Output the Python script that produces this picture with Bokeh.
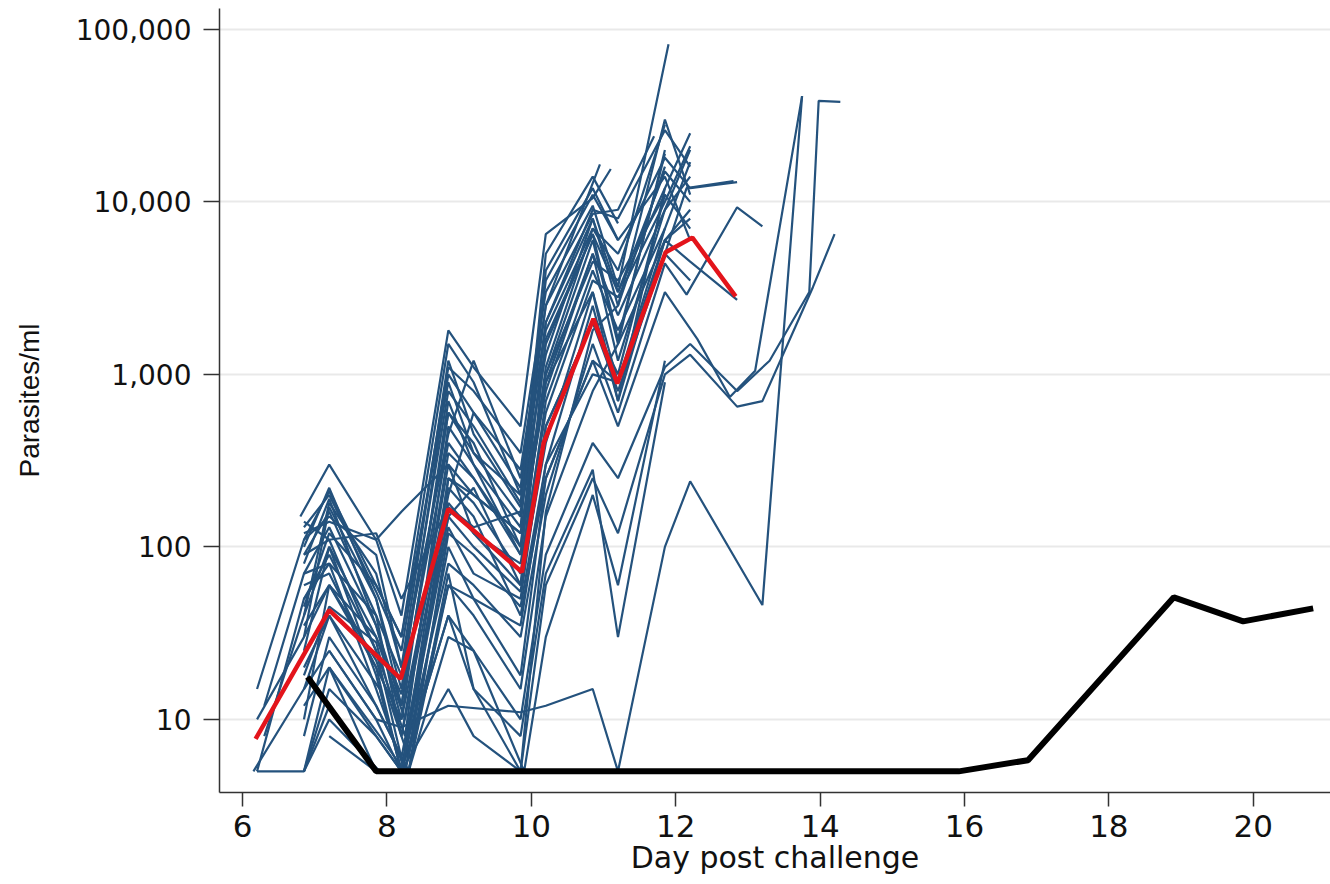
from bokeh.plotting import figure
from bokeh.models import Range1d, FixedTicker, NumeralTickFormatter
from bokeh.embed import file_html
from bokeh.resources import INLINE

# ---- data: individual parasitaemia curves (day post challenge, parasites/ml) ----
blue_days = [
    [6.85, 7.2, 7.85, 8.2, 8.85, 9.2, 9.85, 10.2, 10.85, 11.2, 11.9],
    [6.8, 7.2, 7.85, 8.2, 8.85, 9.2, 9.85, 10.2, 10.85, 11.1],
    [6.2, 6.85, 7.2, 7.85, 8.2, 8.85, 9.2, 9.85, 10.2, 10.95],
    [6.85, 7.2, 7.85, 8.2, 8.85, 9.2, 9.85, 10.2, 10.85, 11.2, 11.85, 12.2],
    [6.3, 6.85, 7.2, 7.85, 8.2, 8.85, 9.2, 9.85, 10.2, 10.85, 11.2, 11.85, 12.2],
    [6.85, 7.2, 7.85, 8.2, 8.85, 9.2, 9.85, 10.2, 10.85, 11.2, 11.85, 12.2, 12.85],
    [6.85, 7.2, 7.85, 8.25, 8.85, 9.2, 9.85, 10.2, 10.85, 11.2, 11.85, 12.2],
    [6.85, 7.2, 7.85, 8.3, 8.85, 9.2, 9.85, 10.2, 10.85, 11.2, 11.85, 12.2],
    [6.85, 7.2, 7.85, 8.2, 8.85, 9.2, 9.85, 10.2, 10.85, 11.2, 11.85],
    [6.85, 7.2, 7.9, 8.2, 8.85, 9.2, 9.85, 10.2, 10.85, 11.2, 11.85, 12.2],
    [6.2, 6.85, 7.2, 7.85, 8.25, 8.85, 9.2, 9.85, 10.2, 10.85, 11.2, 11.85],
    [6.85, 7.2, 7.85, 8.2, 8.85, 9.2, 9.85, 10.2, 10.85, 11.2, 11.85, 12.2],
    [6.85, 7.2, 7.85, 8.3, 8.85, 9.2, 9.85, 10.2, 10.85, 11.2, 11.85, 12.2, 12.85],
    [6.2, 6.85, 7.2, 7.85, 8.2, 8.85, 9.2, 9.85, 10.2, 10.85, 11.2, 11.85, 12.15, 12.85, 13.2],
    [7.2, 7.85, 8.2, 8.85, 9.2, 9.85, 10.2, 10.85, 11.2, 11.85, 12.15, 12.8],
    [6.85, 7.2, 7.85, 8.2, 8.85, 9.2, 9.85, 10.2, 10.85, 11.2, 11.85, 12.3, 12.75, 13.1, 13.75],
    [6.85, 7.2, 7.85, 8.2, 8.85, 9.2, 9.85, 10.2, 10.85, 11.2, 11.85, 12.2, 12.85, 13.2, 13.9, 14.2],
    [7.2, 7.85, 8.2, 8.85, 9.2, 9.85, 10.2, 10.85, 11.2, 11.85, 12.2, 12.85, 13.3, 13.85, 13.98, 14.28],
    [6.85, 7.2, 7.85, 8.2, 8.85, 9.85, 10.2, 10.85, 11.2, 11.85, 12.2, 13.2, 13.75],
    [6.85, 7.2, 7.85, 8.2, 8.85, 9.2, 9.85, 10.2, 10.85, 11.2, 11.85],
    [6.85, 7.2, 7.85, 8.2, 8.85, 9.2, 9.85, 10.2, 10.85, 11.2, 11.85],
    [6.85, 7.2, 7.85, 8.2, 8.85, 9.2, 9.85, 10.2, 10.85, 11.2, 11.85, 12.2],
    [7.2, 7.85, 8.3, 8.85, 9.2, 9.85, 10.2, 10.85, 11.2, 11.85, 12.2],
    [6.85, 7.2, 7.85, 8.2, 8.85, 9.2, 9.85, 10.2, 10.85, 11.2, 11.85, 12.2],
    [6.85, 7.2, 7.85, 8.2, 8.85, 9.2, 9.85, 10.2, 10.85, 11.2, 11.85, 12.2],
    [6.85, 7.2, 7.9, 8.3, 8.85, 9.2, 9.9, 10.2, 10.85, 11.2, 11.85],
    [6.2, 6.85, 7.2, 7.85, 8.2, 8.85, 9.2, 9.85, 10.2, 10.85, 11.2, 11.85, 12.2],
    [6.85, 7.2, 7.85, 8.25, 8.85, 9.2, 9.85, 10.2, 10.85, 11.2, 11.85],
    [6.85, 7.2, 7.85, 8.2, 8.85, 9.2, 9.85, 10.2, 10.85, 11.2],
    [6.15, 6.85, 7.2, 7.85, 8.3, 8.85, 9.2, 9.85, 10.2, 10.85, 11.2, 11.85],
    [6.85, 7.2, 7.85, 8.2, 8.85, 9.2, 9.85, 10.2, 10.85, 11.2, 11.85, 12.2],
    [6.85, 7.2, 7.85, 8.2, 8.85, 9.2, 9.85, 10.2, 10.85, 11.2, 11.7],
    [6.85, 7.2, 7.85, 8.2, 8.85, 9.2, 9.85, 10.2, 10.85, 11.2],
    [6.3, 6.85, 7.2, 7.85, 8.2, 8.85, 9.2, 9.85, 10.2, 10.85, 11.2, 11.85],
    [6.85, 7.2, 7.9, 8.25, 8.85, 9.2, 9.85, 10.2, 10.85, 11.2, 11.85, 12.2],
    [6.85, 7.2, 7.85, 8.2, 8.85, 9.2, 9.85, 10.2, 10.85, 11.2, 11.85],
]
blue_counts = [
    [130, 200, 55, 25, 1100, 800, 350, 3000, 9500, 3200, 82000],
    [150, 300, 110, 40, 1800, 1100, 500, 6500, 10500, 15500],
    [15, 110, 210, 60, 30, 1500, 900, 200, 2500, 16500],
    [90, 160, 40, 18, 800, 500, 180, 2000, 8000, 2500, 30000, 11000],
    [12, 70, 130, 35, 12, 600, 350, 150, 1500, 6500, 3000, 12000, 25000],
    [40, 180, 70, 20, 450, 1200, 250, 1800, 7000, 5000, 18000, 12000, 13000],
    [25, 100, 30, 10, 350, 250, 100, 900, 5000, 2200, 9000, 20000],
    [10, 60, 22, 6, 250, 180, 70, 700, 4000, 1800, 7000, 17000],
    [120, 140, 110, 160, 300, 200, 120, 1000, 6000, 1500, 20000],
    [20, 40, 15, 5, 180, 120, 60, 400, 3000, 900, 6000, 9000],
    [5, 50, 90, 25, 8, 500, 300, 90, 1100, 7000, 4000, 28000],
    [100, 220, 50, 15, 1000, 600, 220, 3500, 11000, 6000, 14000, 6000],
    [8, 30, 12, 5, 120, 90, 45, 300, 2500, 700, 6000, 4500, 2700],
    [5, 5, 15, 8, 5, 80, 60, 30, 200, 1500, 600, 4400, 2900, 9300, 7200],
    [25, 10, 5, 150, 100, 55, 500, 2000, 800, 5000, 12000, 13200],
    [60, 70, 20, 10, 220, 150, 40, 250, 1200, 500, 3000, 1600, 740, 1050, 41000],
    [5, 12, 5, 5, 15, 8, 5, 60, 250, 120, 1000, 1300, 650, 700, 3200, 6500],
    [20, 8, 5, 40, 25, 10, 90, 400, 250, 1100, 1500, 800, 1200, 3000, 38500, 38000],
    [15, 25, 10, 9, 12, 11, 12, 15, 5, 100, 240, 46, 41000],
    [12, 20, 5, 5, 40, 15, 8, 70, 280, 30, 900],
    [140, 110, 120, 50, 170, 130, 160, 900, 3000, 700, 12000],
    [30, 170, 50, 12, 600, 400, 100, 2000, 9000, 8000, 26000, 16000],
    [8, 5, 5, 60, 40, 15, 150, 800, 1500, 6000, 8000],
    [70, 80, 40, 8, 300, 120, 80, 600, 3500, 2800, 10000, 21000],
    [45, 120, 60, 30, 900, 350, 200, 1300, 8000, 3000, 15000, 10000],
    [5, 10, 5, 5, 30, 25, 5, 30, 200, 60, 1200],
    [10, 30, 60, 20, 5, 250, 200, 120, 800, 5000, 1200, 9000, 14000],
    [50, 80, 15, 5, 100, 50, 35, 300, 1000, 900, 7000],
    [110, 150, 90, 20, 1200, 450, 170, 5000, 14000, 7500],
    [5, 15, 40, 12, 5, 70, 15, 5, 160, 1800, 2500, 16000],
    [35, 60, 30, 14, 400, 250, 90, 1000, 4500, 3500, 11000, 7000],
    [18, 45, 28, 8, 200, 600, 280, 2500, 8500, 9000, 24000],
    [80, 190, 35, 10, 700, 300, 130, 4000, 12000, 6000],
    [8, 40, 100, 18, 5, 130, 70, 50, 500, 2000, 1000, 11000],
    [5, 20, 8, 5, 60, 50, 18, 250, 1200, 900, 5000, 3500],
    [90, 110, 25, 6, 150, 220, 60, 1600, 6500, 1600, 19000],
]

# ---- group mean (red) and control (black) ----
mean_days = [6.18, 7.2, 8.19, 8.85, 9.87, 10.17, 10.86, 11.19, 11.86, 12.23, 12.83]
mean_counts = [7.7, 43, 17.2, 166, 71.5, 400, 2100, 885, 5100, 6200, 2830]

control_days = [6.9, 7.85, 8.85, 9.85, 10.85, 11.85, 12.85, 13.85, 14.85, 15.92, 16.88, 18.9, 19.86, 20.83]
control_counts = [17.6, 5, 5, 5, 5, 5, 5, 5, 5, 5, 5.8, 51, 37, 44]

x_ticks = [6, 8, 10, 12, 14, 16, 18, 20]
y_ticks = [10, 100, 1000, 10000, 100000]

TICK_FONT = "DejaVu Sans"
TXT = "#111111"

p = figure(
    width=1330, height=884,
    x_range=Range1d(5.68, 21.07), y_range=Range1d(3.77, 132000),
    y_axis_type="log",
    output_backend="svg", toolbar_location=None,
    min_border_left=219, min_border_right=0, min_border_top=8, min_border_bottom=92,
)
p.outline_line_color = None
p.background_fill_color = "white"
p.border_fill_color = "white"

p.multi_line(blue_days, blue_counts, line_color="#24527d", line_width=2.2)
p.line(control_days, control_counts, line_color="black", line_width=6)
p.line(mean_days, mean_counts, line_color="#e3141b", line_width=4.5)

p.xgrid.visible = False
p.ygrid.grid_line_color = "#e9e9e9"
p.ygrid.grid_line_width = 2
p.ygrid.ticker = FixedTicker(ticks=y_ticks)

p.xaxis.ticker = FixedTicker(ticks=x_ticks, minor_ticks=[])
p.yaxis.ticker = FixedTicker(ticks=y_ticks, minor_ticks=[])
p.yaxis.formatter = NumeralTickFormatter(format="0,0")

for ax in (p.xaxis[0], p.yaxis[0]):
    ax.axis_line_color = "#333333"
    ax.axis_line_width = 1.5
    ax.major_tick_line_color = "#333333"
    ax.major_tick_line_width = 1.5
    ax.major_tick_in = 0
    ax.minor_tick_out = 0
    ax.minor_tick_in = 0
    ax.major_label_text_font = TICK_FONT
    ax.major_label_text_color = TXT
    ax.axis_label_text_color = TXT
    ax.axis_label_text_font_style = "normal"

p.xaxis.major_tick_out = 14
p.xaxis.axis_label = "Day post challenge"
p.xaxis.axis_label_text_font = "DejaVu Sans"
p.xaxis.major_label_text_font_size = "31px"
p.xaxis.axis_label_text_font_size = "30px"
p.xaxis.major_label_standoff = 8
p.xaxis.axis_label_standoff = 0

p.yaxis.major_tick_out = 16
p.yaxis.axis_label = "Parasites/ml"
p.yaxis.axis_label_text_font = "Liberation Sans"
p.yaxis.major_label_text_font_size = "28px"
p.yaxis.axis_label_text_font_size = "28px"
p.yaxis.major_label_standoff = 12
p.yaxis.axis_label_standoff = 28

open("out.html", "w").write(file_html(p, INLINE))
